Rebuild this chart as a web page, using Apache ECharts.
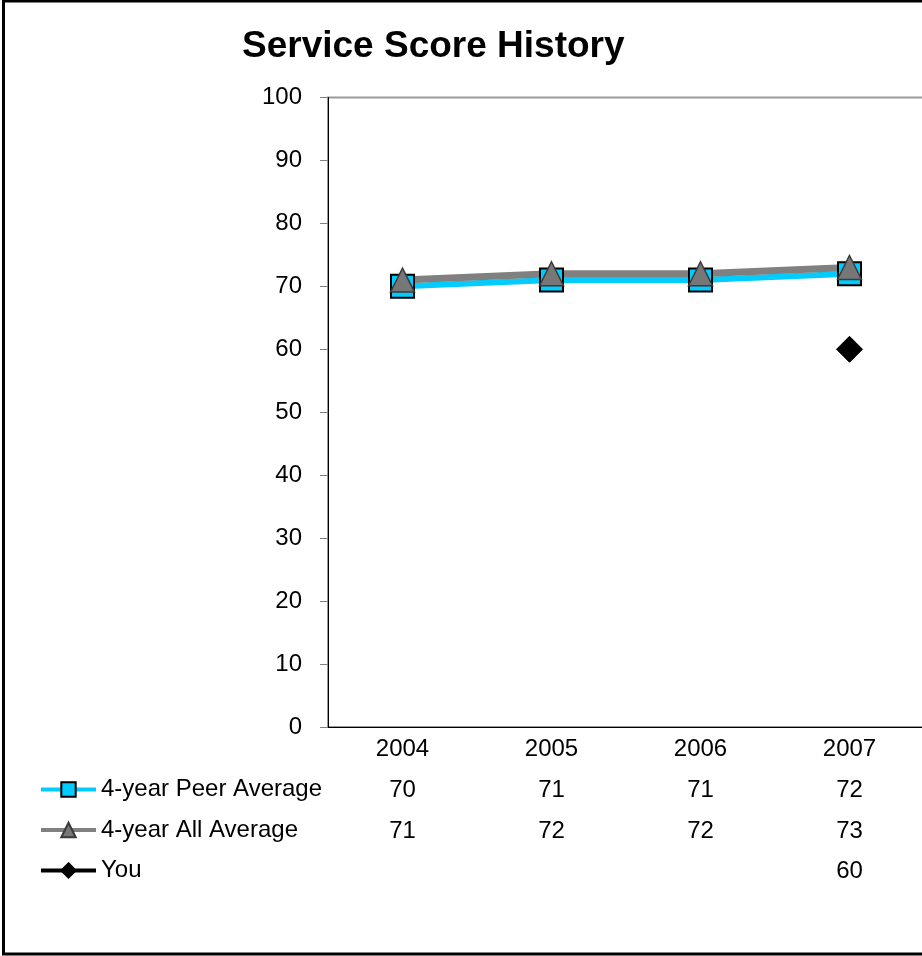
<!DOCTYPE html>
<html>
<head>
<meta charset="utf-8">
<script src="https://cdn.jsdelivr.net/npm/echarts@6/dist/echarts.min.js"></script>
<style>
  html, body { margin: 0; padding: 0; background: #fff; overflow: hidden; }
  #chart { width: 926px; height: 956px; }
</style>
</head>
<body>
<div id="chart"></div>
<script>
// Yearly service scores
const categories = ['2004', '2005', '2006', '2007'];
const peerAverage = [70, 71, 71, 72];
const allAverage = [71, 72, 72, 73];
const youScores = [null, null, null, 60];

const seriesNames = ['4-year Peer Average', '4-year All Average', 'You'];
const tableRows = [peerAverage, allAverage, youScores];

const FONT = '"Liberation Sans", Arial, sans-serif';
const TEXT_SIZE = 24;
const ROW_STEP = 40.5;

const chart = echarts.init(document.getElementById('chart'), null, { renderer: 'canvas' });

// One hidden-line category axis per data-table row, stacked under the main axis
const tableAxes = tableRows.map((row, r) => ({
  type: 'category',
  gridIndex: 0,
  position: 'bottom',
  offset: ROW_STEP * (r + 1),
  data: categories,
  axisLine: { show: false },
  axisTick: { show: false },
  splitLine: { show: false },
  axisLabel: {
    interval: 0,
    margin: 11,
    color: '#000',
    fontFamily: FONT,
    fontSize: TEXT_SIZE,
    formatter: (v, i) => (row[i] == null ? '' : String(row[i]))
  }
}));

const legendTemplate = {
  left: 39,
  orient: 'horizontal',
  itemWidth: 55,
  itemHeight: 18,
  padding: 0,
  lineStyle: { width: 4 },
  textStyle: { color: '#000', fontFamily: FONT, fontSize: TEXT_SIZE }
};

chart.setOption({
  animation: false,
  backgroundColor: '#fff',
  title: {
    text: 'Service Score History',
    left: 242,
    top: 28,
    padding: 0,
    textStyle: { color: '#000', fontFamily: FONT, fontSize: 37, fontWeight: 'bold' }
  },
  graphic: [{
    type: 'rect',
    shape: { x: 3.5, y: 1, width: 1000, height: 953 },
    style: { fill: 'none', stroke: '#000', lineWidth: 3 },
    silent: true
  }],
  legend: seriesNames.map((name, r) => Object.assign({}, legendTemplate, {
    data: [name],
    top: 727 + 10 + ROW_STEP * (r + 1)
  })),
  grid: {
    left: 328,
    top: 97.5,
    right: 2,
    bottom: 229,
    show: true,
    borderColor: '#9a9a9a',
    borderWidth: 2,
    backgroundColor: 'transparent'
  },
  xAxis: [{
    type: 'category',
    data: categories,
    boundaryGap: true,
    axisLine: { show: true, lineStyle: { color: '#000', width: 1 } },
    axisTick: { show: false },
    splitLine: { show: false },
    axisLabel: {
      interval: 0,
      margin: 10,
      color: '#000',
      fontFamily: FONT,
      fontSize: TEXT_SIZE
    }
  }].concat(tableAxes),
  yAxis: {
    type: 'value',
    min: 0,
    max: 100,
    interval: 10,
    axisLine: { show: true, lineStyle: { color: '#000', width: 1 } },
    axisTick: { show: true, length: 8, lineStyle: { color: '#808080', width: 1 } },
    splitLine: { show: false },
    axisLabel: {
      margin: 26,
      color: '#000',
      fontFamily: FONT,
      fontSize: TEXT_SIZE
    }
  },
  series: [
    {
      name: seriesNames[0],
      type: 'line',
      data: peerAverage,
      symbol: 'rect',
      symbolSize: 23,
      showAllSymbol: true,
      lineStyle: { color: '#00ccff', width: 6 },
      itemStyle: { color: '#00ccff', borderColor: '#000', borderWidth: 2 }
    },
    {
      name: seriesNames[1],
      type: 'line',
      data: allAverage,
      symbol: 'triangle',
      symbolSize: 24,
      showAllSymbol: true,
      lineStyle: { color: '#808080', width: 7 },
      itemStyle: { color: '#777777', borderColor: '#3a3a3a', borderWidth: 1.5 }
    },
    {
      name: seriesNames[2],
      type: 'line',
      data: youScores,
      symbol: 'diamond',
      symbolSize: 26,
      showAllSymbol: true,
      connectNulls: false,
      lineStyle: { color: '#000', width: 4 },
      itemStyle: { color: '#000', borderColor: '#000', borderWidth: 1 }
    }
  ]
});
</script>
</body>
</html>
